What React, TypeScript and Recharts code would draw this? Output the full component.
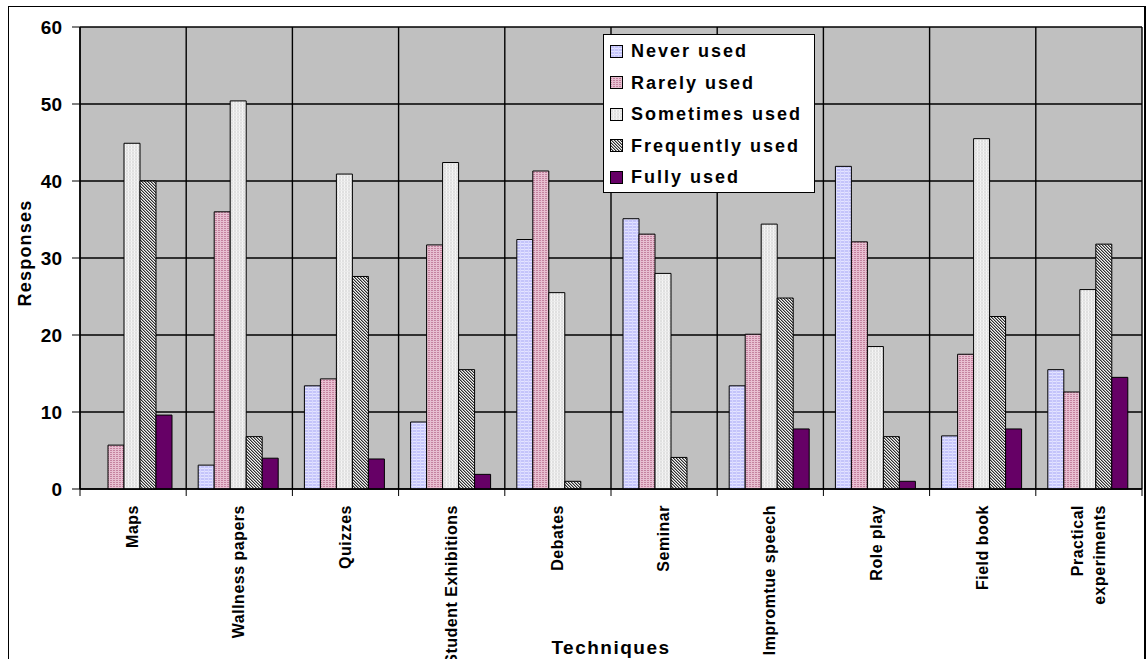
import { BarChart, Bar, XAxis, YAxis, CartesianGrid, Legend, Label } from "recharts";

const techniques = [
  "Maps",
  "Wallness papers",
  "Quizzes",
  "Student Exhibitions",
  "Debates",
  "Seminar",
  "Impromtue speech",
  "Role play",
  "Field book",
  "Practical\nexperiments",
];

const seriesNames = ["Never used", "Rarely used", "Sometimes used", "Frequently used", "Fully used"];

const neverUsed = [0, 3.1, 13.4, 8.7, 32.4, 35.1, 13.4, 41.9, 6.9, 15.5];
const rarelyUsed = [5.7, 36.0, 14.3, 31.7, 41.3, 33.1, 20.1, 32.1, 17.5, 12.6];
const sometimesUsed = [44.9, 50.4, 40.9, 42.4, 25.5, 28.0, 34.4, 18.5, 45.5, 25.9];
const frequentlyUsed = [40.0, 6.8, 27.6, 15.5, 1.0, 4.1, 24.8, 6.8, 22.4, 31.8];
const fullyUsed = [9.6, 4.0, 3.9, 1.9, 0, 0, 7.8, 1.0, 7.8, 14.5];

const yTicks = [0, 10, 20, 30, 40, 50, 60];

const data = techniques.map((name, i) => ({
  name,
  never: neverUsed[i],
  rarely: rarelyUsed[i],
  sometimes: sometimesUsed[i],
  frequently: frequentlyUsed[i],
  fully: fullyUsed[i],
}));

// fills per series, same order as seriesNames
const fills = ["url(#patNever)", "url(#patRarely)", "url(#patSometimes)", "url(#patFrequently)", "#660066"];
const keys = ["never", "rarely", "sometimes", "frequently", "fully"];

const FONT = "Arial, 'Liberation Sans', sans-serif";
const CHART_W = 1139;
const CHART_H = 680;
const MARGIN = { top: 21, right: 5, left: 0, bottom: 47 };
const Y_AXIS_W = 72;
const STEP = (CHART_W - MARGIN.left - MARGIN.right - Y_AXIS_W) / techniques.length;

function TechniqueTick(props: any) {
  const { x, y, payload, index } = props;
  const lines = String(payload.value).split("\n");
  const axisY = y - 6;
  const top = axisY + 16;
  const left = x - STEP / 2;
  const right = x + STEP / 2;
  const lineGap = 22;
  const first = x + 5 - ((lines.length - 1) * lineGap) / 2;
  return (
    <g>
      <line x1={left} y1={axisY} x2={left} y2={axisY + 7} stroke="#000" />
      {index === techniques.length - 1 && (
        <line x1={right} y1={axisY} x2={right} y2={axisY + 7} stroke="#000" />
      )}
      {lines.map((line, k) => {
        const bx = first + k * lineGap;
        return (
          <text
            key={k}
            x={bx}
            y={top}
            transform={`rotate(-90, ${bx}, ${top})`}
            textAnchor="end"
            fontFamily={FONT}
            fontWeight="bold"
            fontSize={16}
            letterSpacing={0.5}
            fill="#000"
          >
            {line}
          </text>
        );
      })}
    </g>
  );
}

function LegendBox() {
  return (
    <div
      style={{
        width: 204,
        height: 156,
        border: "1px solid #000",
        background: "#fff",
        padding: "1px 0 0 6px",
        boxSizing: "content-box",
      }}
    >
      {seriesNames.map((name, i) => (
        <div key={name} style={{ height: 31.5, display: "flex", alignItems: "center" }}>
          <svg width={14} height={14} style={{ marginRight: 7 }}>
            <rect x={0.5} y={0.5} width={12} height={12} fill={fills[i]} stroke="#000" />
          </svg>
          <span
            style={{
              fontFamily: FONT,
              fontWeight: "bold",
              fontSize: 18,
              letterSpacing: 2,
              color: "#000",
              whiteSpace: "nowrap",
            }}
          >
            {name}
          </span>
        </div>
      ))}
    </div>
  );
}

export default function App() {
  return (
    <div
      style={{
        position: "fixed",
        left: 0,
        top: 0,
        width: 1147,
        height: 659,
        overflow: "hidden",
        background: "#fff",
      }}
    >
      <div
        style={{
          position: "absolute",
          left: 8,
          top: 6,
          width: 1138,
          height: 700,
          borderTop: "1px solid #000",
          borderLeft: "1px solid #000",
          borderRight: "2px solid #000",
          boxSizing: "border-box",
        }}
      />
      <div style={{ position: "absolute", left: 8, top: 6 }}>
        <BarChart
          width={CHART_W}
          height={CHART_H}
          data={data}
          margin={MARGIN}
          barGap={0}
          barCategoryGap={12}
        >
          <defs>
            <pattern id="patNever" width={4} height={3} patternUnits="userSpaceOnUse">
              <rect width={4} height={3} fill="#c4c4fa" />
              <rect width={4} height={1} fill="#e4e4ff" />
              <rect width={1} height={3} fill="#d6d6ff" />
            </pattern>
            <pattern id="patRarely" width={3} height={2} patternUnits="userSpaceOnUse">
              <rect width={3} height={2} fill="#e8bfd1" />
              <rect width={2} height={1} fill="#c4829f" />
            </pattern>
            <pattern id="patSometimes" width={3} height={3} patternUnits="userSpaceOnUse">
              <rect width={3} height={3} fill="#e0e0e0" />
              <rect width={1} height={3} fill="#f6f6f6" />
              <rect y={1} width={3} height={1} fill="#eaeaea" />
            </pattern>
            <pattern id="patFrequently" width={3} height={3} patternUnits="userSpaceOnUse">
              <rect width={3} height={3} fill="#f4f4f4" />
              <rect x={0} y={0} width={1} height={1} fill="#2e2e2e" />
              <rect x={1} y={1} width={1} height={1} fill="#2e2e2e" />
              <rect x={2} y={2} width={1} height={1} fill="#2e2e2e" />
              <rect x={1} y={0} width={1} height={1} fill="#9a9a9a" />
              <rect x={2} y={1} width={1} height={1} fill="#9a9a9a" />
              <rect x={0} y={2} width={1} height={1} fill="#9a9a9a" />
            </pattern>
          </defs>
          <CartesianGrid
            fill="#c0c0c0"
            fillOpacity={1}
            stroke="#000"
            strokeWidth={1.4}
            verticalCoordinatesGenerator={({ offset }: any) =>
              techniques
                .map((_, i) => offset.left + i * (offset.width / techniques.length))
                .concat(offset.left + offset.width)
            }
          />
          <XAxis
            dataKey="name"
            height={150}
            interval={0}
            tickLine={false}
            tickSize={6}
            tickMargin={0}
            axisLine={{ stroke: "#000", strokeWidth: 1.4 }}
            tick={<TechniqueTick />}
          >
            <Label
              content={(p: any) => {
                const vb = p.viewBox;
                return (
                  <text
                    x={vb.x + vb.width / 2}
                    y={vb.y + 165}
                    textAnchor="middle"
                    fontFamily={FONT}
                    fontWeight="bold"
                    fontSize={19}
                    letterSpacing={1.5}
                    fill="#000"
                  >
                    Techniques
                  </text>
                );
              }}
            />
          </XAxis>
          <YAxis
            width={Y_AXIS_W}
            domain={[0, 60]}
            ticks={yTicks}
            interval={0}
            tickSize={8}
            tickMargin={10}
            axisLine={{ stroke: "#000", strokeWidth: 1.4 }}
            tickLine={{ stroke: "#000" }}
            tick={{ fontFamily: FONT, fontWeight: "bold", fontSize: 19, fill: "#000" }}
          >
            <Label
              content={(p: any) => {
                const vb = p.viewBox;
                const cx = vb.x + 23;
                const cy = vb.y + vb.height / 2 - 5;
                return (
                  <text
                    x={cx}
                    y={cy}
                    transform={`rotate(-90, ${cx}, ${cy})`}
                    textAnchor="middle"
                    fontFamily={FONT}
                    fontWeight="bold"
                    fontSize={18}
                    letterSpacing={1.2}
                    fill="#000"
                  >
                    Responses
                  </text>
                );
              }}
            />
          </YAxis>
          <Legend
            layout="vertical"
            align="center"
            verticalAlign="middle"
            content={<LegendBox />}
            wrapperStyle={{ left: 595, top: 28, width: "auto", height: "auto" }}
          />
          {keys.map((k, i) => (
            <Bar
              key={k}
              dataKey={k}
              name={seriesNames[i]}
              fill={fills[i]}
              stroke="#000"
              strokeWidth={1}
              isAnimationActive={false}
            />
          ))}
        </BarChart>
      </div>
    </div>
  );
}
